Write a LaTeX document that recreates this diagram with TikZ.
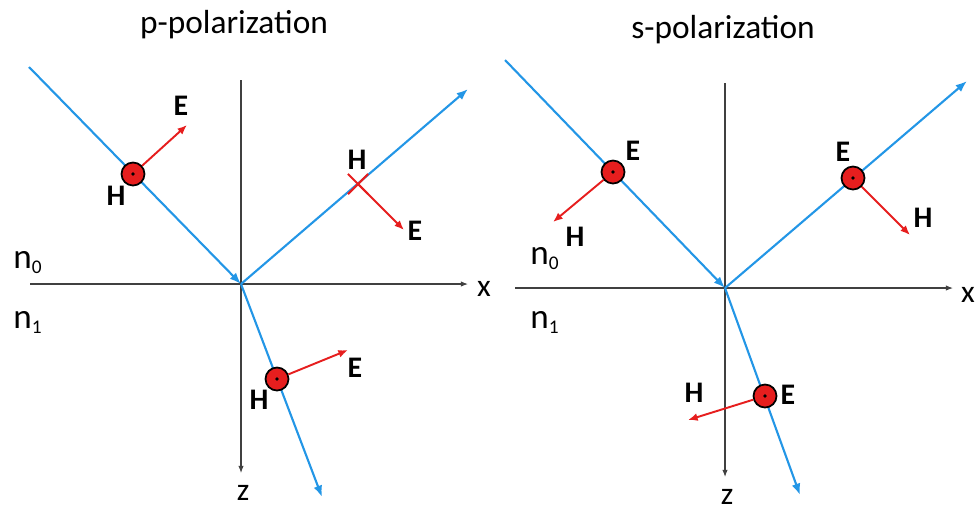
\documentclass[tikz,border=0pt]{standalone}
\usepackage{fontspec}
\setmainfont{Carlito}
\usetikzlibrary{arrows.meta,shapes.misc}
\definecolor{raycol}{RGB}{35,150,230}
\definecolor{fieldred}{RGB}{230,30,30}
\newcommand{\nsub}[1]{n\raisebox{-3pt}{\fontsize{11}{13}\selectfont #1}}
\begin{document}
\begin{tikzpicture}[
    x=0.02cm, y=-0.02cm,
    every node/.style={font=\fontsize{17}{20}\selectfont\bfseries, inner sep=0pt},
    ttl/.style={font=\fontsize{19}{22}\selectfont, anchor=base},
    nlab/.style={font=\fontsize{20}{24}\selectfont, anchor=base west},
    axlab/.style={font=\fontsize{18}{21}\selectfont},
    axis/.style={-{Latex[length=4pt,width=3pt]}, black!75, line width=0.6pt},
    ray/.style={-{Latex[length=6.5pt,width=5pt]}, raycol, line width=1.2pt},
    earr/.style={-{Latex[length=5.5pt,width=4.5pt]}, fieldred, line width=1.1pt},
    outdot/.style={circle, fill=fieldred, draw=black, line width=1pt, minimum size=0.46cm,
        path picture={\fill[black] (path picture bounding box.center) circle (1.1pt);}},
    xmark/.style={cross out, draw=fieldred, line width=1.2pt, minimum size=0.36cm}
]
\useasboundingbox (0,0) rectangle (979,512);
% p-polarization
\node[ttl] (tp) at (234,33) {p-polarization};
\coordinate (o1) at (241,284);
\coordinate (xl1) at (30,284);
\coordinate (xr1) at (468,284);
\coordinate (zt1) at (241,80);
\coordinate (zb1) at (241,473);
\coordinate (i1) at (29,67);
\coordinate (r1) at (468,89);
\coordinate (t1) at (322,497);
\draw[axis] (xl1) -- (xr1);
\draw[axis] (zt1) -- (zb1);
\node[axlab] (xp) at (484,289) {x};
\node[axlab] (zp) at (243,493) {z};
\node[nlab] (n0p) at (13,268) {\nsub{0}};
\node[nlab] (n1p) at (13,328) {\nsub{1}};
\draw[ray] (i1) -- (o1);
\draw[ray] (o1) -- (r1);
\draw[ray] (o1) -- (t1);
\node[outdot] (c1) at (133,174) {};
\node[xmark] (m1) at (358,184) {};
\node[outdot] (c3) at (277,379) {};
\coordinate (e1) at (187,125);
\coordinate (e2) at (404,230);
\coordinate (e3) at (348,350);
\draw[earr] (c1) -- (e1);
\draw[earr] (m1.center) -- (e2);
\draw[earr] (c3) -- (e3);
\node (le1) at (181,106) {E};
\node (lh1) at (116,196) {H};
\node (lh2) at (357,160) {H};
\node (le2) at (415,231) {E};
\node (le3) at (355,368) {E};
\node (lh3) at (259,400) {H};
% s-polarization
\node[ttl] (ts) at (723,38) {s-polarization};
\coordinate (o2) at (725,288);
\coordinate (xl2) at (515,288);
\coordinate (xr2) at (953,288);
\coordinate (zt2) at (725,83);
\coordinate (zb2) at (725,477);
\coordinate (i2) at (505,60);
\coordinate (r2) at (967,81);
\coordinate (t2) at (800,495);
\draw[axis] (xl2) -- (xr2);
\draw[axis] (zt2) -- (zb2);
\node[axlab] (xs) at (968,295) {x};
\node[axlab] (zs) at (727,497) {z};
\node[nlab] (n0s) at (530,264) {\nsub{0}};
\node[nlab] (n1s) at (530,328) {\nsub{1}};
\draw[ray] (i2) -- (o2);
\draw[ray] (o2) -- (r2);
\draw[ray] (o2) -- (t2);
\node[outdot] (c4) at (613,172) {};
\node[outdot] (c5) at (853,178) {};
\node[outdot] (c6) at (765,396) {};
\coordinate (h4) at (553,222);
\coordinate (h5) at (910,235);
\coordinate (h6) at (688,420);
\draw[earr] (c4) -- (h4);
\draw[earr] (c5) -- (h5);
\draw[earr] (c6) -- (h6);
\node (le4) at (633,151) {E};
\node (lh4) at (575,237) {H};
\node (le5) at (843,152) {E};
\node (lh5) at (923,218) {H};
\node (le6) at (788,395) {E};
\node (lh6) at (694,393) {H};
\end{tikzpicture}
\end{document}
